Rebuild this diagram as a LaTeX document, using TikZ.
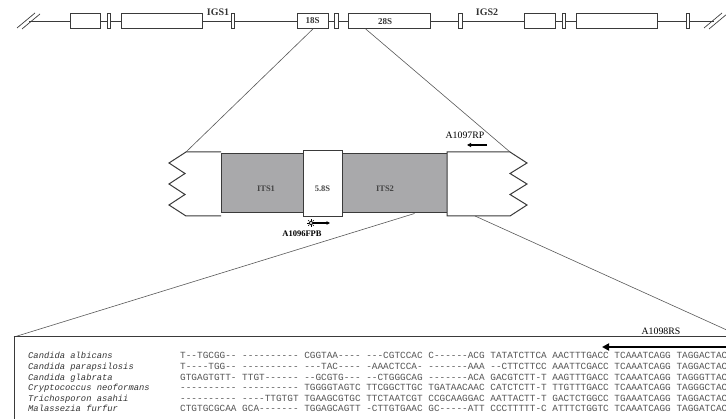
\documentclass[tikz,border=0pt]{standalone}
\usepackage{fontspec}
\setmainfont{Liberation Serif}
\newfontfamily\monof{Liberation Mono}
\usetikzlibrary{arrows.meta}
\definecolor{lineg}{HTML}{3A3A3A}
\definecolor{fillg}{HTML}{A9A9AB}
\definecolor{seqg}{HTML}{555555}
\definecolor{namg}{HTML}{333333}
\definecolor{labg}{HTML}{444444}
\begin{document}
\begin{tikzpicture}[x=1pt,y=-1pt,
  genebox/.style={draw=lineg,line width=0.8pt,fill=white,inner sep=0pt,minimum height=15pt},
  barbox/.style={draw=lineg,line width=0.8pt,fill=white,inner sep=0pt,minimum height=15pt,minimum width=3.5pt},
  toplab/.style={font=\fontsize{10}{10}\selectfont\bfseries,text=namg,inner sep=0pt},
  genelab/.style={font=\fontsize{8.5}{8.5}\selectfont\bfseries,text=labg,inner sep=0pt},
  primlab/.style={font=\fontsize{9.8}{9.8}\selectfont,text=black,inner sep=0pt},
  zoomline/.style={draw=lineg!85,line width=0.6pt},
  blk/.style={draw=lineg,line width=1pt},
  spname/.style={font=\monof\itshape\fontsize{8.8}{8.8}\selectfont,text=namg,anchor=base west,inner sep=0pt},
  seqtxt/.style={font=\monof\fontsize{9.4}{9.4}\selectfont,text=seqg,anchor=base west,inner sep=0pt}]
\useasboundingbox (0,0) rectangle (726,419);
% ---------- top row ----------
\coordinate (ls) at (29,21);
\coordinate (rs) at (714,21);
\draw[draw=lineg,line width=0.8pt] (ls) -- (rs);
\draw[draw=lineg,line width=0.7pt] (17,28) -- (35,13) (22,29) -- (40,14);
\draw[draw=lineg,line width=0.7pt] (704,28) -- (722,13) (709,29) -- (727,14);
\node[genebox,minimum width=30pt] (b1) at (85,21) {};
\node[barbox] (k1) at (109,21) {};
\node[genebox,minimum width=81pt] (b2) at (161.5,21) {};
\node[barbox] (k2) at (233,21) {};
\node[toplab,anchor=base] (igs1) at (218,16) {IGS1};
\node[genebox,minimum width=31pt,font=\fontsize{9}{9}\selectfont\bfseries,text=namg] (s18) at (312.5,21) {18S};
\node[barbox] (k3) at (336.5,21) {};
\node[genebox,minimum width=82pt] (s28) at (389,21) {};
\node[toplab,font=\fontsize{9}{9}\selectfont\bfseries] (l28) at (385,22) {28S};
\node[barbox] (k4) at (460.5,21) {};
\node[toplab,anchor=base] (igs2) at (487,16) {IGS2};
\node[genebox,minimum width=31pt] (b3) at (539.5,21) {};
\node[barbox] (k5) at (564,21) {};
\node[genebox,minimum width=81pt] (b4) at (616.5,21) {};
\node[barbox] (k6) at (688,21) {};
% ---------- middle block ----------
\coordinate (lbtl) at (186,152);
\coordinate (rbtr) at (510,152);
\draw[zoomline] (s18.south) ++(0.5,0) -- (lbtl);
\draw[zoomline] (s28.south west) ++(18,0) -- (rbtr);
\draw[blk,fill=white] (221,152) -- (lbtl) -- (169,163) -- (185,173.5) -- (169,184) -- (185,194.5) -- (169,205) -- (186,216) -- (221,216);
\node[draw=lineg,line width=1pt,fill=fillg,minimum width=82pt,minimum height=59pt,inner sep=0pt] (its1) at (262,183.5) {};
\node[draw=lineg,line width=1pt,fill=fillg,minimum width=105pt,minimum height=59pt,inner sep=0pt] (its2) at (394.5,183.5) {};
\node[draw=lineg,line width=1pt,fill=white,minimum width=39pt,minimum height=66pt,inner sep=0pt] (s58) at (322.5,184) {};
\draw[blk,fill=white] (447,152) -- (rbtr) -- (527,163) -- (510,173.5) -- (527,184) -- (510,194.5) -- (527,205) -- (510,216) -- (447,216) -- cycle;
\node[genelab] (t1) at (266,189) {ITS1};
\node[genelab] (t58) at (322.5,189) {5.8S};
\node[genelab] (t2) at (385,189) {ITS2};
% primers
\node[primlab,anchor=base] (p97) at (465,139) {A1097RP};
\coordinate (a97s) at (487,145);
\coordinate (a97e) at (467,145);
\draw[line width=1.3pt,-{Triangle[length=4pt,width=4pt]}] (a97s) -- (a97e);
\node[draw=black,circle,line width=0.7pt,minimum size=3.6pt,inner sep=0pt] (sun) at (311,223) {};
\foreach \a in {0,45,...,315} \draw[line width=0.6pt] (sun) ++(\a:2.2) -- ++(\a:1.8);
\coordinate (a96e) at (330,224);
\draw[line width=1.1pt,-{Triangle[length=3.5pt,width=3.5pt]}] (sun.east) -- (a96e |- sun);
\node[primlab,font=\fontsize{8.5}{8.5}\selectfont\bfseries,anchor=base] (p96) at (302,236.5) {A1096FPB};
% ---------- bottom panel ----------
\coordinate (btl) at (14,337);
\coordinate (bbl) at (14,430);
\coordinate (btr) at (740,337);
\coordinate (dr) at (740,336);
\draw[zoomline] (its2.south) ++(20,0) -- (btl);
\draw[zoomline] (475,216) -- (dr);
\draw[draw=lineg,line width=1pt] (bbl) -- (btl) -- (btr);
\node[primlab,anchor=base] (p98) at (661,335) {A1098RS};
\coordinate (a98s) at (730,347);
\coordinate (a98e) at (602,347);
\draw[line width=2.4pt,-{Triangle[length=7pt,width=7pt]}] (a98s) -- (a98e);
\foreach \n/\nm/\sq [count=\i from 0] in {
  r1/Candida albicans/T--TGCGG-- ---------- CGGTAA---- ---CGTCCAC C------ACG TATATCTTCA AACTTTGACC TCAAATCAGG TAGGACTAC,
  r2/Candida parapsilosis/T----TGG-- ---------- ---TAC---- -AAACTCCA- -------AAA --CTTCTTCC AAATTCGACC TCAAATCAGG TAGGACTAC,
  r3/Candida glabrata/GTGAGTGTT- TTGT------ --GCGTG--- --CTGGGCAG -------ACA GACGTCTT-T AAGTTTGACC TCAAATCAGG TAGGGTTAC,
  r4/Cryptococcus neoformans/---------- ---------- TGGGGTAGTC TTCGGCTTGC TGATAACAAC CATCTCTT-T TTGTTTGACC TCAAATCAGG TAGGGCTAC,
  r5/Trichosporon asahii/---------- ----TTGTGT TGAAGCGTGC TTCTAATCGT CCGCAAGGAC AATTACTT-T GACTCTGGCC TGAAATCAGG TAGGACTAC,
  r6/Malassezia furfur/CTGTGCGCAA GCA------- TGGAGCAGTT -CTTGTGAAC GC-----ATT CCCTTTTT-C ATTTCTGGTC TCAAATCAGG TAGGATCAC}{
  \node[spname] (\n) at (28,{359+10.6*\i}) {\nm};
  \node[seqtxt] (\n s) at (180,{359+10.6*\i}) {\sq};
}
\end{tikzpicture}
\end{document}
